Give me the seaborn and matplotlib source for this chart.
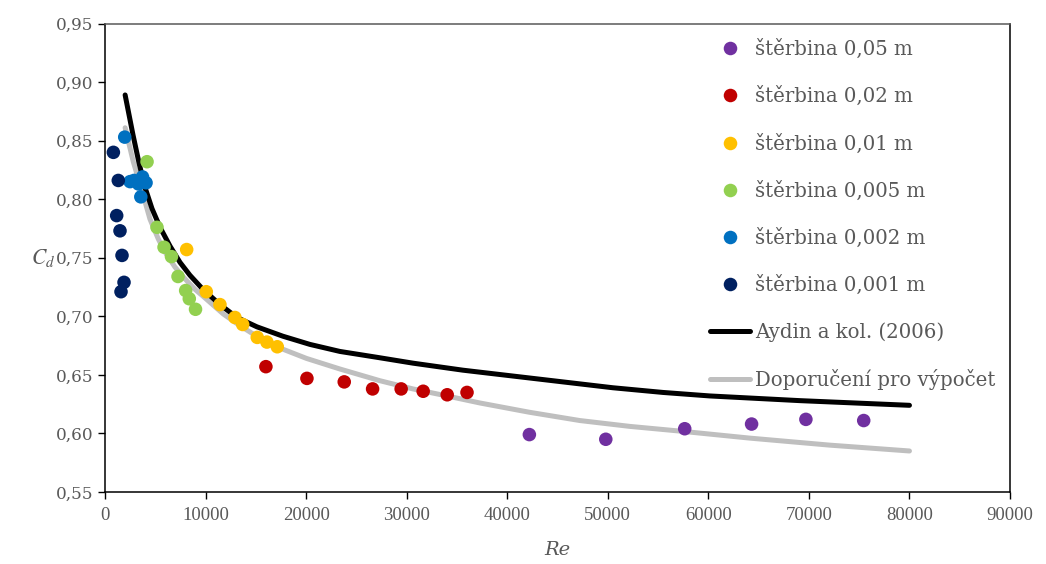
import matplotlib
matplotlib.use("Agg")
import matplotlib.pyplot as plt
import seaborn as sns
import pandas as pd

# Measured discharge coefficients for each slit width
re_005 = [42200, 49800, 57650, 64300, 69700, 75450]
cd_005 = [0.599, 0.595, 0.604, 0.608, 0.612, 0.611]

re_002 = [16000, 20080, 23790, 26610, 29450, 31640, 34030, 36000]
cd_002 = [0.657, 0.647, 0.644, 0.638, 0.638, 0.636, 0.633, 0.635]

re_001 = [8120, 10070, 11430, 12920, 13690, 15140, 16100, 17130]
cd_001 = [0.757, 0.721, 0.710, 0.699, 0.693, 0.682, 0.678, 0.674]

re_0005 = [4180, 5170, 5870, 6610, 7260, 8020, 8380, 9000]
cd_0005 = [0.832, 0.776, 0.759, 0.751, 0.734, 0.722, 0.715, 0.706]

re_0002 = [1960, 2490, 2880, 3330, 3730, 4080, 3560]
cd_0002 = [0.853, 0.815, 0.816, 0.813, 0.819, 0.814, 0.802]

re_0001 = [830, 1320, 1160, 1490, 1690, 1890, 1590]
cd_0001 = [0.840, 0.816, 0.786, 0.773, 0.752, 0.729, 0.721]

# Aydin et al. (2006) curve
re_aydin = [2000, 2780, 3380, 3980, 4670, 5470, 6460, 7460, 8450, 9740,
            11430, 13120, 15110, 17690, 20380, 23360, 27040, 30620, 35590,
            40560, 45530, 50500, 55470, 60140, 69080, 80000]
cd_aydin = [0.889, 0.855, 0.831, 0.810, 0.792, 0.776, 0.760, 0.746, 0.735,
            0.723, 0.710, 0.699, 0.691, 0.683, 0.676, 0.670, 0.665, 0.660,
            0.654, 0.649, 0.644, 0.639, 0.635, 0.632, 0.628, 0.624]

# Recommended design curve
re_rec = [2000, 2810, 3810, 4470, 5300, 5960, 6960, 7950, 8950, 9770,
          11760, 13420, 15080, 17070, 20050, 23360, 27340, 30620, 34000,
          37280, 42250, 47220, 52190, 57160, 64110, 72070, 80000]
cd_rec = [0.861, 0.832, 0.803, 0.783, 0.766, 0.755, 0.742, 0.732, 0.723,
          0.717, 0.702, 0.692, 0.683, 0.674, 0.664, 0.655, 0.645, 0.638,
          0.632, 0.626, 0.618, 0.611, 0.606, 0.602, 0.596, 0.590, 0.585]

series_labels = ["štěrbina 0,05 m", "štěrbina 0,02 m", "štěrbina 0,01 m",
                 "štěrbina 0,005 m", "štěrbina 0,002 m", "štěrbina 0,001 m"]
series_colors = ["#7030A0", "#C00000", "#FFC000", "#92D050", "#0070C0", "#002060"]
series_re = [re_005, re_002, re_001, re_0005, re_0002, re_0001]
series_cd = [cd_005, cd_002, cd_001, cd_0005, cd_0002, cd_0001]

line_labels = ["Aydin a kol. (2006)", "Doporučení pro výpočet"]
line_colors = ["#000000", "#BFBFBF"]

x_ticks = [0, 10000, 20000, 30000, 40000, 50000, 60000, 70000, 80000, 90000]
y_ticks = [0.55, 0.60, 0.65, 0.70, 0.75, 0.80, 0.85, 0.90, 0.95]

sns.set_style("ticks")
plt.rcParams["font.family"] = ["DejaVu Serif"]
plt.rcParams["mathtext.fontset"] = "stix"

text_gray = "#595959"

fig = plt.figure(figsize=(10.46, 5.64), dpi=100)
ax = fig.add_axes([0.1004, 0.1277, 0.8652, 0.8306])

pts = pd.concat(
    [pd.DataFrame({"Re": r, "Cd": c, "serie": lab})
     for r, c, lab in zip(series_re, series_cd, series_labels)],
    ignore_index=True)
curves = pd.concat(
    [pd.DataFrame({"Re": re_aydin, "Cd": cd_aydin, "krivka": line_labels[0]}),
     pd.DataFrame({"Re": re_rec, "Cd": cd_rec, "krivka": line_labels[1]})],
    ignore_index=True)

sns.lineplot(data=curves, x="Re", y="Cd", hue="krivka",
             palette=dict(zip(line_labels, line_colors)),
             hue_order=line_labels[::-1], sort=False, estimator=None,
             linewidth=3.6, ax=ax, zorder=2)
sns.scatterplot(data=pts, x="Re", y="Cd", hue="serie",
                palette=dict(zip(series_labels, series_colors)),
                hue_order=series_labels, s=95, linewidth=0,
                ax=ax, zorder=3)

handles, labels = ax.get_legend_handles_labels()
hmap = dict(zip(labels, handles))
order = series_labels + line_labels
leg = ax.legend([hmap[k] for k in order], order, loc="upper left",
                bbox_to_anchor=(0.664, 0.975), frameon=False,
                fontsize=14.2, labelspacing=1.37, handlelength=2.03,
                handletextpad=0.25, borderpad=0.2, borderaxespad=0)
for t in leg.get_texts():
    t.set_color(text_gray)
for h in leg.legend_handles:
    if hasattr(h, "set_sizes"):
        h.set_sizes([95])

ax.set_xlim(0, 90000)
ax.set_ylim(0.55, 0.95)
ax.set_xticks(x_ticks)
ax.set_xticklabels([str(v) for v in x_ticks], family="Liberation Serif",
                   fontsize=13.5)
ax.set_yticks(y_ticks)
ax.set_yticklabels([f"{v:.2f}".replace(".", ",") for v in y_ticks],
                   fontsize=12.2)
ax.tick_params(axis="both", colors="black", labelcolor=text_gray,
               direction="out", length=5, width=1)
ax.tick_params(axis="x", pad=6)

ax.set_xlabel("Re", fontsize=14, style="italic", color=text_gray)
ax.xaxis.set_label_coords(0.5, -0.105)
ax.set_ylabel(r"$C_d$", fontsize=15.5, rotation=0, color=text_gray,
              va="center")
ax.yaxis.set_label_coords(-0.068, 0.5)

for side in ["left", "bottom", "right"]:
    ax.spines[side].set_color("black")
    ax.spines[side].set_linewidth(1.1)
ax.spines["top"].set_color(text_gray)
ax.spines["top"].set_linewidth(1.1)

fig.savefig("out.png", dpi=100)
